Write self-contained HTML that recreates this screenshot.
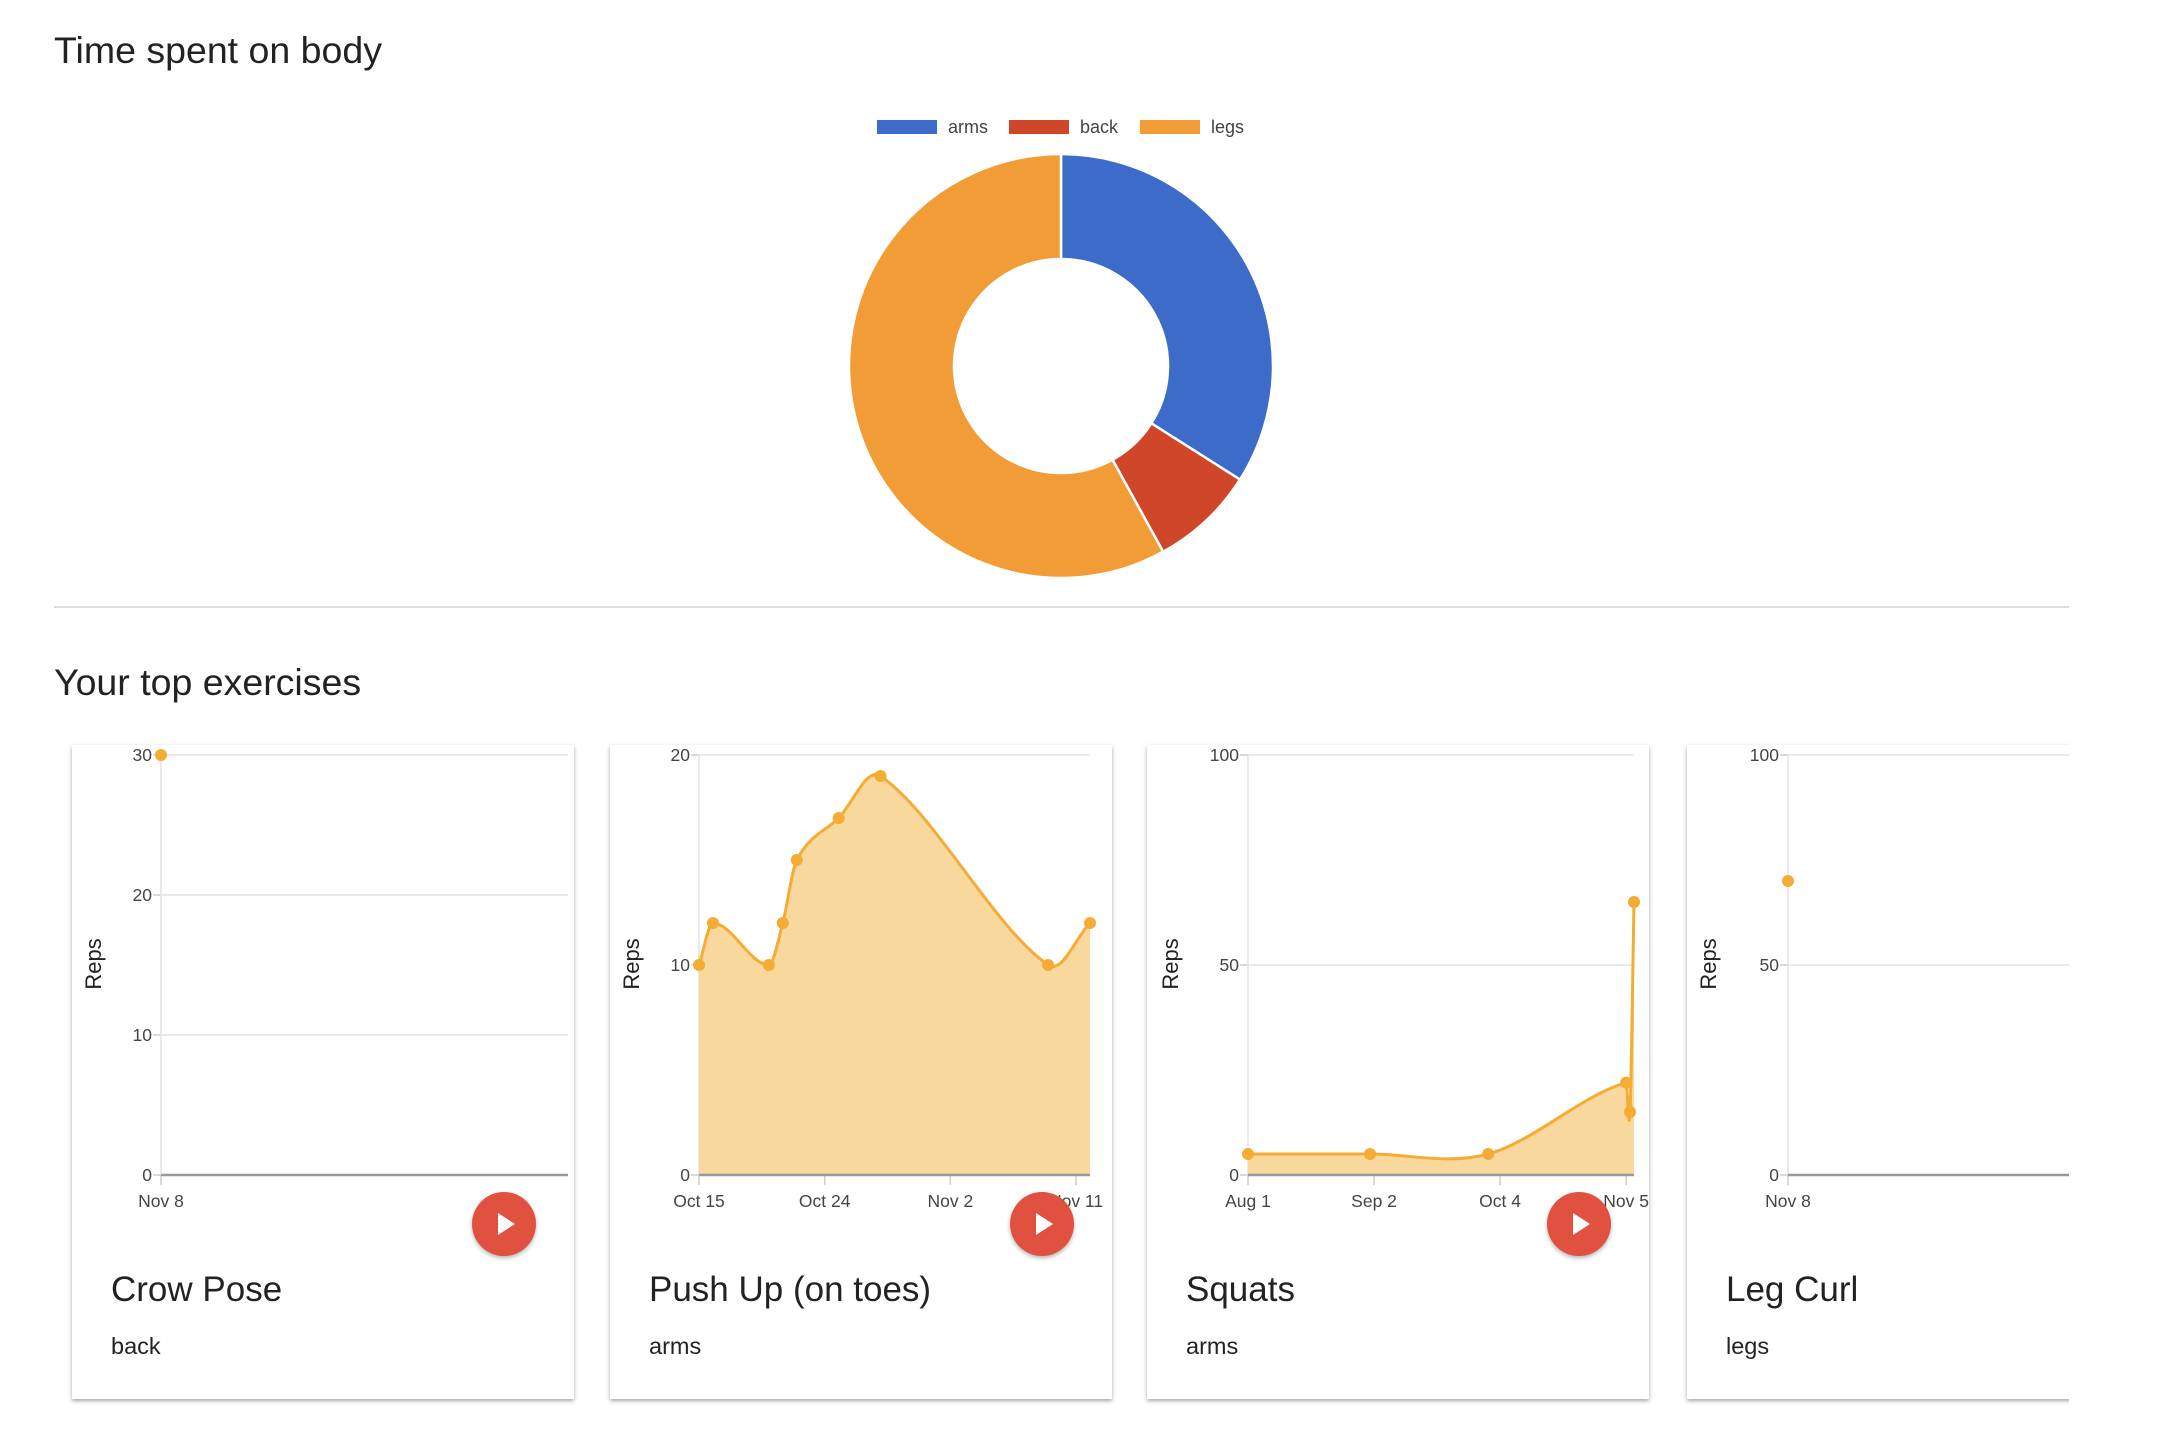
<!DOCTYPE html>
<html><head><meta charset="utf-8">
<style>
body{margin:0;width:2184px;height:1440px;background:#fff;font-family:"Liberation Sans",sans-serif;overflow:hidden;position:relative}
h2{position:absolute;left:54px;margin:0;font-weight:normal;font-size:37.5px;color:#222;line-height:1}
#sep{position:absolute;left:54px;top:606px;width:2015px;height:2px;background:#ddd}
#cards{position:absolute;left:54px;top:728px;width:2015px;height:700px;overflow:hidden}
.card{position:absolute;top:17px;width:502px;height:654px;background:#fff;box-shadow:0 2px 4px rgba(0,0,0,.35)}
.card svg{position:absolute;left:0;top:0}
.play{position:absolute;left:400px;top:447px;width:64px;height:64px;border-radius:50%;background:#e05140;box-shadow:0 2px 4px rgba(0,0,0,.3)}
.play:after{content:"";position:absolute;left:26px;top:21px;border-left:17px solid #fff;border-top:11px solid transparent;border-bottom:11px solid transparent}
.ct{position:absolute;left:39px;top:525px;font-size:35px;color:#222}
.cs{position:absolute;left:39px;top:588px;font-size:23.5px;color:#222}
</style></head><body>
<h2 style="top:32px">Time spent on body</h2>
<svg id="donut" width="2184" height="600" style="position:absolute;left:0;top:0"></svg>
<div id="sep"></div>
<h2 style="top:664px">Your top exercises</h2>
<div id="cards"></div>
<script>
const bodyParts=["arms","back","legs"];
const bodyTime=[34,8,58];
const bodyColors=["#3c6bc9","#cf4628","#f19c37"];

const ex1Dates=["2018-11-08"];
const ex1Values=[30];
const ex1Ticks=[0,10,20,30];
const ex1XTicks=["2018-11-08"];

const ex2Dates=["2018-10-15","2018-10-16","2018-10-20","2018-10-21","2018-10-22","2018-10-25","2018-10-28","2018-11-09","2018-11-12"];
const ex2Values=[10,12,10,12,15,17,19,10,12];
const ex2Ticks=[0,10,20];
const ex2XTicks=["2018-10-15","2018-10-24","2018-11-02","2018-11-11"];

const ex3Dates=["2018-08-01","2018-09-01","2018-10-01","2018-11-05","2018-11-06","2018-11-07"];
const ex3Values=[5,5,5,22,15,65];
const ex3Ticks=[0,50,100];
const ex3XTicks=["2018-08-01","2018-09-02","2018-10-04","2018-11-05"];

const ex4Dates=["2018-11-08"];
const ex4Values=[70];
const ex4Ticks=[0,50,100];
const ex4XTicks=["2018-11-08"];

const NS="http://www.w3.org/2000/svg";
const MON=["Jan","Feb","Mar","Apr","May","Jun","Jul","Aug","Sep","Oct","Nov","Dec"];
function mk(t,a,p){const e=document.createElementNS(NS,t);for(const k in a)e.setAttribute(k,a[k]);p.appendChild(e);return e;}
function day(s){const [y,m,d]=s.split("-").map(Number);return Date.UTC(y,m-1,d)/864e5;}
function lab(s){const [y,m,d]=s.split("-").map(Number);return MON[m-1]+" "+d;}

(function(){
 const svg=document.getElementById("donut");
 const cx=1061,cy=366,R=212,r=107;
 const tot=bodyTime.reduce((a,b)=>a+b,0);
 let a0=0;
 bodyTime.forEach((v,i)=>{
  const a1=a0+v/tot*2*Math.PI;
  const p=(a,rr)=>[cx+rr*Math.sin(a),cy-rr*Math.cos(a)];
  const lg=(a1-a0)>Math.PI?1:0;
  const [x0,y0]=p(a0,R),[x1,y1]=p(a1,R),[x2,y2]=p(a1,r),[x3,y3]=p(a0,r);
  const s=mk("path",{d:`M${x0},${y0}A${R},${R} 0 ${lg} 1 ${x1},${y1}L${x2},${y2}A${r},${r} 0 ${lg} 0 ${x3},${y3}Z`,fill:bodyColors[i],stroke:"#fff","stroke-width":2.5},svg);
  
  
  a0=a1;
 });
 const lx=[877,1009,1140];
 bodyParts.forEach((n,i)=>{
  const sw=mk("rect",{x:lx[i],y:120,width:60,height:14,fill:bodyColors[i]},svg);
  
  
  const t=mk("text",{x:lx[i]+71,y:133,"font-size":18,fill:"#444","font-family":"Liberation Sans, sans-serif"},svg);
  t.textContent=n;
  
  
 });
})();

function curve(pts){
 const n=pts.length;
 if(n<2)return "";
 const m=pts.map((p,i)=>{
  const a=pts[Math.max(0,i-1)],b=pts[Math.min(n-1,i+1)];
  return (b[1]-a[1])/(b[0]-a[0]||1);
 });
 let d=`M${pts[0][0]},${pts[0][1]}`;
 for(let i=0;i<n-1;i++){
  const p1=pts[i],p2=pts[i+1],dx=p2[0]-p1[0];
  d+=`C${p1[0]+dx/3},${p1[1]+m[i]*dx/3} ${p2[0]-dx/3},${p2[1]-m[i+1]*dx/3} ${p2[0]},${p2[1]}`;
 }
 return d;
}

const cardLefts=[18,556,1093,1633];
const cards=[
 {name:"Crow Pose",part:"back",dates:ex1Dates,vals:ex1Values,ticks:ex1Ticks,xt:ex1XTicks,L:89,Rr:496},
 {name:"Push Up (on toes)",part:"arms",dates:ex2Dates,vals:ex2Values,ticks:ex2Ticks,xt:ex2XTicks,L:89,Rr:480},
 {name:"Squats",part:"arms",dates:ex3Dates,vals:ex3Values,ticks:ex3Ticks,xt:ex3XTicks,L:101,Rr:487},
 {name:"Leg Curl",part:"legs",dates:ex4Dates,vals:ex4Values,ticks:ex4Ticks,xt:ex4XTicks,L:101,Rr:502}
];
const host=document.getElementById("cards");
cards.forEach((c,ci)=>{
 const slug=c.name.toLowerCase().replace(/[^a-z]+/g,"-").replace(/-$/,"");
 const div=document.createElement("div");
 div.className="card";div.style.left=cardLefts[ci]+"px";
 
 
 host.appendChild(div);
 const svg=document.createElementNS(NS,"svg");
 svg.setAttribute("width",502);svg.setAttribute("height",500);
 
 
 div.appendChild(svg);
 const T=10,B=430,L=c.L,R=c.Rr;
 const ymax=c.ticks[c.ticks.length-1];
 const y=v=>B-(v/ymax)*(B-T);
 const d0=day(c.dates[0]),d1=day(c.dates[c.dates.length-1]);
 const x=s=>d1===d0?L:L+(day(s)-d0)/(d1-d0)*(R-L);
 c.ticks.forEach(t=>{
  if(t!==0){const g=mk("line",{x1:L,x2:R,y1:y(t),y2:y(t),stroke:"#e3e3e3","stroke-width":1.5},svg);
   }
  mk("line",{x1:L-8,x2:L,y1:y(t),y2:y(t),stroke:"#ccc","stroke-width":1.5},svg);
  const tl=mk("text",{x:L-9,y:y(t)+6,"text-anchor":"end","font-size":17.5,fill:"#444"},svg);
  tl.textContent=t;
  
  
 });
 mk("line",{x1:L,x2:L,y1:T,y2:B,stroke:"#e3e3e3","stroke-width":1.5},svg);
 c.xt.forEach(s=>{
  const xx=x(s);
  mk("line",{x1:xx,x2:xx,y1:B,y2:B+10,stroke:"#ccc","stroke-width":1.5},svg);
  const tl=mk("text",{x:xx,y:B+32,"text-anchor":"middle","font-size":17.5,fill:"#444"},svg);
  tl.textContent=lab(s);
  
  
 });
 const pts=c.dates.map((s,i)=>[x(s),y(c.vals[i])]);
 if(pts.length>1){
  const ln=curve(pts);
  const ar=mk("path",{d:ln+`L${pts[pts.length-1][0]},${B}L${pts[0][0]},${B}Z`,fill:"#f8d89c"},svg);
  
  const l=mk("path",{d:ln,fill:"none",stroke:"#f5ac35","stroke-width":3},svg);
  
 }
 const base=mk("line",{x1:L,x2:R,y1:B,y2:B,stroke:"#999","stroke-width":2.5},svg);
 
 pts.forEach(p=>{
  const pt=mk("circle",{cx:p[0],cy:p[1],r:6,fill:"#f5ac35"},svg);
  
  
 });
 const rp=mk("text",{x:0,y:0,transform:`translate(${ci==2?31:29},219) rotate(-90)`,"text-anchor":"middle","font-size":22,fill:"#222"},svg);
 rp.textContent="Reps";
 
 
 const pb=document.createElement("div");pb.className="play";
 
 
 div.appendChild(pb);
 const ti=document.createElement("div");ti.className="ct";ti.textContent=c.name;
 
 
 div.appendChild(ti);
 const su=document.createElement("div");su.className="cs";su.textContent=c.part;
 
 
 div.appendChild(su);
});
</script>
</body></html>
